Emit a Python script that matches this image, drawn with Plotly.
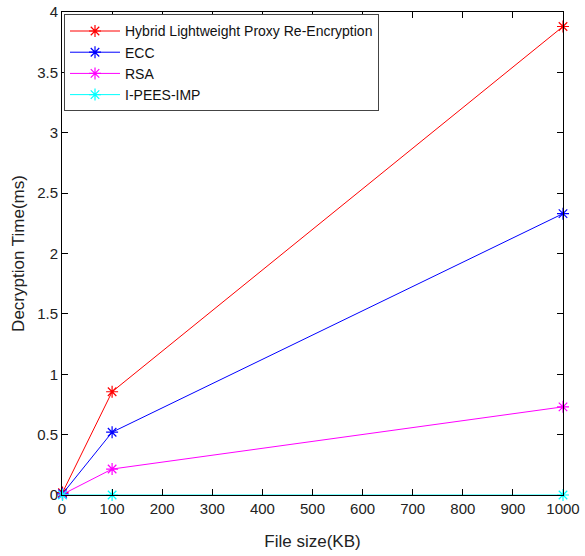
import plotly.graph_objects as go

file_size = [1, 100, 1000]
hybrid = [0.02, 0.855, 3.88]
ecc = [0.01, 0.52, 2.33]
rsa = [0.005, 0.215, 0.73]
ipees = [0.0, 0.0, 0.0]

series = [
    ("Hybrid Lightweight Proxy Re-Encryption", hybrid, "#ff0000"),
    ("ECC", ecc, "#0000ff"),
    ("RSA", rsa, "#ff00ff"),
    ("I-PEES-IMP", ipees, "#00ffff"),
]

FONT = "Liberation Sans, Arial"

fig = go.Figure()
for name, vals, col in series:
    fig.add_trace(go.Scatter(
        x=file_size, y=vals, name=name, mode="lines+markers",
        line=dict(color=col, width=1),
        marker=dict(symbol="asterisk-open", size=10, color=col, line=dict(color=col, width=1.2)),
        cliponaxis=False,
    ))

axis_common = dict(
    showline=True, linecolor="black", linewidth=1, mirror="ticks",
    ticks="inside", ticklen=6, tickcolor="black", showgrid=False, zeroline=False,
    automargin=False,
    tickfont=dict(family=FONT, size=15, color="#222"),
)

fig.update_layout(
    width=585, height=556,
    margin=dict(l=62, r=22, t=12, b=61),
    paper_bgcolor="white", plot_bgcolor="white",
    font=dict(family=FONT, color="#222"),
    xaxis=dict(range=[0, 1000], tickvals=list(range(0, 1001, 100)),
               title=dict(text="File size(KB)", font=dict(size=17), standoff=19), **axis_common),
    yaxis=dict(range=[0, 4], tickvals=[0, 0.5, 1, 1.5, 2, 2.5, 3, 3.5, 4],
               ticktext=["0", "0.5", "1", "1.5", "2", "2.5", "3", "3.5", "4"],
               title=dict(text="Decryption Time(ms)", font=dict(size=17), standoff=8), **axis_common),
    legend=dict(x=0.004, y=0.995, xanchor="left", yanchor="top",
                bgcolor="white", bordercolor="#444", borderwidth=1,
                font=dict(size=14, family=FONT, color="#111"),
                tracegroupgap=2, itemwidth=50),
    showlegend=True,
)

fig.write_html("out.html")
